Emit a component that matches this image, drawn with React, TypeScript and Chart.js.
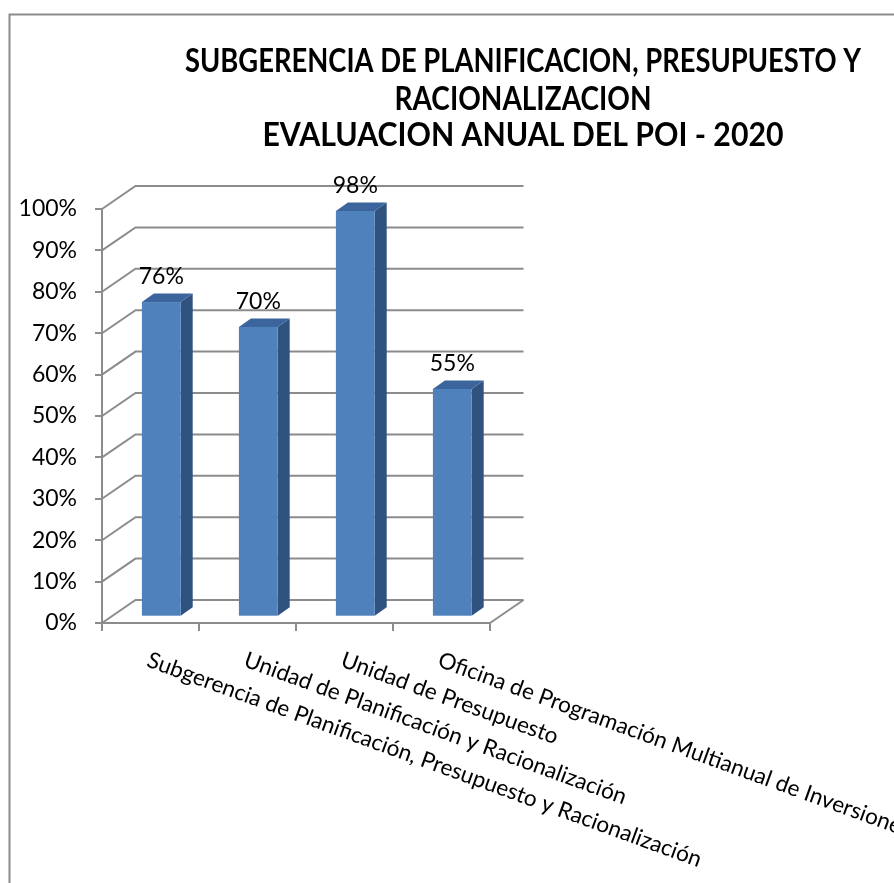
import React, { useEffect, useRef } from 'react';
import { Chart, registerables } from 'chart.js';

Chart.register(...registerables);

// ---- data ----
const categories: string[] = [
  'Subgerencia de Planificación, Presupuesto y Racionalización',
  'Unidad de Planificación y Racionalización',
  'Unidad de Presupuesto',
  'Oficina de Programación Multianual de Inversiones',
];
const values: number[] = [0.76, 0.7, 0.98, 0.55];
const titleLines: string[] = [
  'SUBGERENCIA DE PLANIFICACION, PRESUPUESTO Y',
  'RACIONALIZACION',
  'EVALUACION ANUAL DEL POI - 2020',
];
const yMin = 0;
const yMax = 1;
const yStep = 0.1;

// ---- style ----
const W = 894;
const H = 883;
const FONT = 'Lato, "Noto Sans", sans-serif';
const GRID = '#8c8c8c';
const WALL_DX = 33.5;
const WALL_DY = -23;
const BAR_DX = 10.8;
const BAR_DY = -6.3;
const DEPTH_DX = 12;
const DEPTH_DY = -8.5;
const FRONT = '#4f81bd';
const SIDE = '#30527f';
const TOP = '#3b659c';
const TITLE_BASELINES = [72, 109.5, 146];
const TITLE_SX = [0.855, 0.875, 0.945];

const pct = (v: number) => `${Math.round(v * 100)}%`;

const excel3d = {
  id: 'excel3d',
  beforeDraw(chart: any) {
    const ctx = chart.ctx as CanvasRenderingContext2D;
    ctx.save();
    ctx.fillStyle = '#ffffff';
    ctx.fillRect(0, 0, W, H);
    // frame
    ctx.strokeStyle = GRID;
    ctx.lineWidth = 2;
    ctx.beginPath();
    ctx.moveTo(9.5, H + 2);
    ctx.lineTo(9.5, 14.5);
    ctx.lineTo(W + 2, 14.5);
    ctx.stroke();
    // title
    ctx.fillStyle = '#000';
    ctx.textAlign = 'center';
    ctx.textBaseline = 'alphabetic';
    ctx.font = `bold 32px ${FONT}`;
    titleLines.forEach((line, i) => {
      ctx.save();
      ctx.translate(523, TITLE_BASELINES[i]);
      ctx.scale(TITLE_SX[i], 1);
      ctx.fillText(line, 0, 0);
      ctx.restore();
    });
    ctx.restore();
  },
  beforeDatasetsDraw(chart: any) {
    const ctx = chart.ctx as CanvasRenderingContext2D;
    const { left, right, bottom } = chart.chartArea;
    const ys = chart.scales.y;
    ctx.save();
    ctx.strokeStyle = GRID;
    ctx.lineWidth = 2;
    ctx.lineCap = 'butt';
    ys.ticks.forEach((t: any) => {
      const y = ys.getPixelForValue(t.value);
      ctx.beginPath();
      ctx.moveTo(left, y);
      ctx.lineTo(left + WALL_DX, y + WALL_DY);
      ctx.lineTo(right + WALL_DX, y + WALL_DY);
      ctx.stroke();
    });
    // floor right edge
    ctx.beginPath();
    ctx.moveTo(right, bottom);
    ctx.lineTo(right + WALL_DX, bottom + WALL_DY);
    ctx.stroke();
    ctx.restore();
  },
  afterDatasetsDraw(chart: any) {
    const ctx = chart.ctx as CanvasRenderingContext2D;
    const meta = chart.getDatasetMeta(0);
    ctx.save();
    meta.data.forEach((bar: any, i: number) => {
      const { x, y, base, width } = bar.getProps(['x', 'y', 'base', 'width'], true);
      const l = x - width / 2 + BAR_DX;
      const r = x + width / 2 + BAR_DX;
      const t = y + BAR_DY;
      const b = base + BAR_DY;
      // side face
      ctx.fillStyle = SIDE;
      ctx.beginPath();
      ctx.moveTo(r, t);
      ctx.lineTo(r + DEPTH_DX, t + DEPTH_DY);
      ctx.lineTo(r + DEPTH_DX, b + DEPTH_DY);
      ctx.lineTo(r, b);
      ctx.closePath();
      ctx.fill();
      // top face
      ctx.fillStyle = TOP;
      ctx.beginPath();
      ctx.moveTo(l, t);
      ctx.lineTo(l + DEPTH_DX, t + DEPTH_DY);
      ctx.lineTo(r + DEPTH_DX, t + DEPTH_DY);
      ctx.lineTo(r, t);
      ctx.closePath();
      ctx.fill();
      // front face
      ctx.fillStyle = FRONT;
      ctx.fillRect(l, t, r - l, b - t);
      // data label
      ctx.fillStyle = '#000';
      ctx.font = `23px ${FONT}`;
      ctx.textAlign = 'center';
      ctx.textBaseline = 'alphabetic';
      ctx.fillText(pct(values[i]), (l + r) / 2, t - 18);
    });
    // rotated category labels
    const xs = chart.scales.x;
    const { bottom } = chart.chartArea;
    ctx.font = `22.5px ${FONT}`;
    ctx.textAlign = 'left';
    ctx.textBaseline = 'alphabetic';
    ctx.fillStyle = '#000';
    categories.forEach((c, i) => {
      const px = xs.getPixelForValue(i);
      ctx.save();
      ctx.translate(px + 0.5, bottom + 28);
      ctx.rotate((20 * Math.PI) / 180);
      ctx.fillText(c, 0, 16);
      ctx.restore();
    });
    ctx.restore();
  },
};

export default function App() {
  const ref = useRef<HTMLCanvasElement | null>(null);
  useEffect(() => {
    if (!ref.current) return;
    const chart = new Chart(ref.current, {
      type: 'bar',
      data: {
        labels: categories,
        datasets: [
          {
            data: values,
            backgroundColor: 'rgba(0,0,0,0)',
            borderWidth: 0,
            categoryPercentage: 1,
            barPercentage: 0.4,
          },
        ],
      },
      options: {
        responsive: false,
        animation: false,
        devicePixelRatio: 1,
        layout: { padding: { left: 0, right: W - 490, top: 209, bottom: 0 } },
        plugins: {
          legend: { display: false },
          title: { display: false },
          tooltip: { enabled: false },
        },
        scales: {
          x: {
            type: 'category',
            offset: true,
            ticks: { display: false },
            grid: {
              offset: true,
              drawOnChartArea: false,
              drawTicks: true,
              tickLength: 8,
              color: GRID,
              lineWidth: 2,
            },
            border: { display: true, color: GRID, width: 2 },
            afterFit: (s: any) => {
              s.height = H - 623;
            },
          },
          y: {
            min: yMin,
            max: yMax,
            ticks: {
              stepSize: yStep,
              callback: (v: any) => pct(Number(v)),
              font: { family: FONT, size: 23 },
              color: '#000',
              padding: 18,
            },
            grid: {
              drawOnChartArea: false,
              drawTicks: true,
              tickLength: 7,
              color: GRID,
              lineWidth: 2,
            },
            border: { display: true, color: GRID, width: 2 },
            afterFit: (s: any) => {
              s.width = 102;
            },
          },
        },
      },
      plugins: [excel3d],
    });
    return () => chart.destroy();
  }, []);
  return (
    <div style={{ position: 'fixed', left: 0, top: 0, width: W, height: H, background: '#fff' }}>
      <canvas ref={ref} width={W} height={H} style={{ display: 'block' }} />
    </div>
  );
}
